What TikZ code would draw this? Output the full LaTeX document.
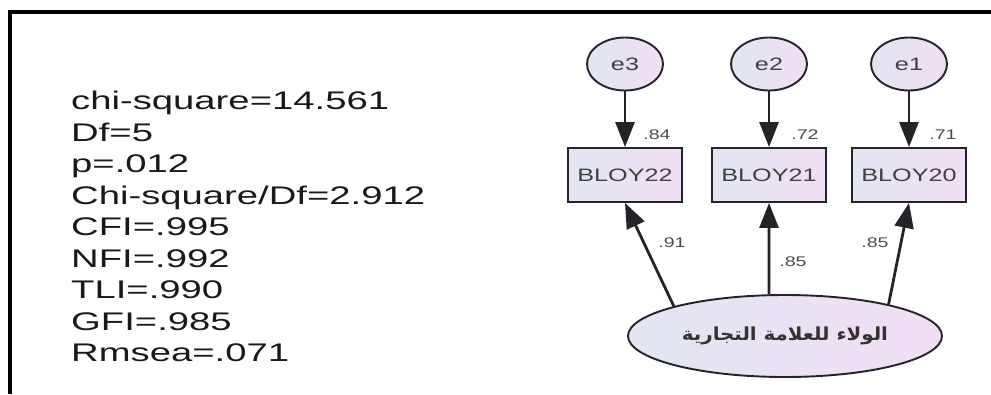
\documentclass[tikz,border=0pt]{standalone}
\usepackage{fontspec}
\usepackage{tikz}
\usetikzlibrary{arrows.meta}
\usetikzlibrary{shapes.geometric}
\TeXXeTstate=1
\newfontfamily\statfont[FakeStretch=1.5]{Liberation Sans}
\newfontfamily\semfont[FakeStretch=1.4]{Liberation Sans}
\newfontfamily\arabicfont[Script=Arabic,FakeStretch=1.1]{DejaVu Sans}
\definecolor{semline}{RGB}{35,35,40}
\definecolor{semleft}{RGB}{226,230,242}
\definecolor{semright}{RGB}{242,222,246}
\def\thickness{2.8pt}
\def\border{1.9pt}
\tikzstyle{errvar}=[ellipse, draw=semline, line width=\border, left color=semleft, right color=semright, minimum width=76pt, minimum height=53pt, inner sep=0pt, text=black!75, font=\semfont\fontsize{18}{18}\selectfont]
\tikzstyle{obsvar}=[rectangle, draw=semline, line width=\border, left color=semleft, right color=semright, minimum width=114pt, minimum height=54pt, inner sep=0pt, text=black!75, font=\semfont\fontsize{18}{18}\selectfont]
\tikzstyle{latvar}=[ellipse, draw=semline, line width=\border, left color=semleft, right color=semright, minimum width=314pt, minimum height=82pt, inner sep=0pt, text=black!80, font=\arabicfont\bfseries\fontsize{18}{18}\selectfont]
\tikzstyle{load}=[draw=semline, line width=\thickness, -{Triangle[length=25pt,width=19pt]}]
\tikzstyle{coef}=[inner sep=0pt, text=black!70, font=\semfont\fontsize{14}{14}\selectfont]

\begin{document}
\begin{tikzpicture}[x=1pt, y=-1pt]
\useasboundingbox (0,0) rectangle (991,394);
\draw[line width=4pt] (9.5,394) -- (9.5,12) -- (991,12);
% fit indices
\node[anchor=north west, align=left, inner sep=0pt, text=black!90, font=\statfont\fontsize{25.5}{31.5}\selectfont] (fitidx) at (71,91)
  {chi-square=14.561\\Df=5\\p=.012\\Chi-square/Df=2.912\\CFI=.995\\NFI=.992\\TLI=.990\\GFI=.985\\Rmsea=.071};
% measurement model
\node [errvar] (e3) at (625,64) {e3};
\node [errvar] (e2) at (769,64) {e2};
\node [errvar] (e1) at (909,64) {e1};
\node [obsvar] (bloy22) at (625,175) {BLOY22};
\node [obsvar] (bloy21) at (769,175) {BLOY21};
\node [obsvar] (bloy20) at (909,175) {BLOY20};
\node [latvar] (loyal) at (785,336) {\beginR الولاء للعلامة التجارية\endR};
\draw [load] (e3) -- (bloy22);
\draw [load] (e2) -- (bloy21);
\draw [load] (e1) -- (bloy20);
\draw [load] (loyal.165) -- (bloy22.south);
\draw [load] (loyal.111) -- (bloy21.south);
\draw [load] (loyal.17) -- (bloy20.south);
\node [coef] (r22) at (657,135) {.84};
\node [coef] (r21) at (805,135) {.72};
\node [coef] (r20) at (943,135) {.71};
\node [coef] (w22) at (672,243) {.91};
\node [coef] (w21) at (793,262) {.85};
\node [coef] (w20) at (875,243) {.85};
\end{tikzpicture}
\end{document}
